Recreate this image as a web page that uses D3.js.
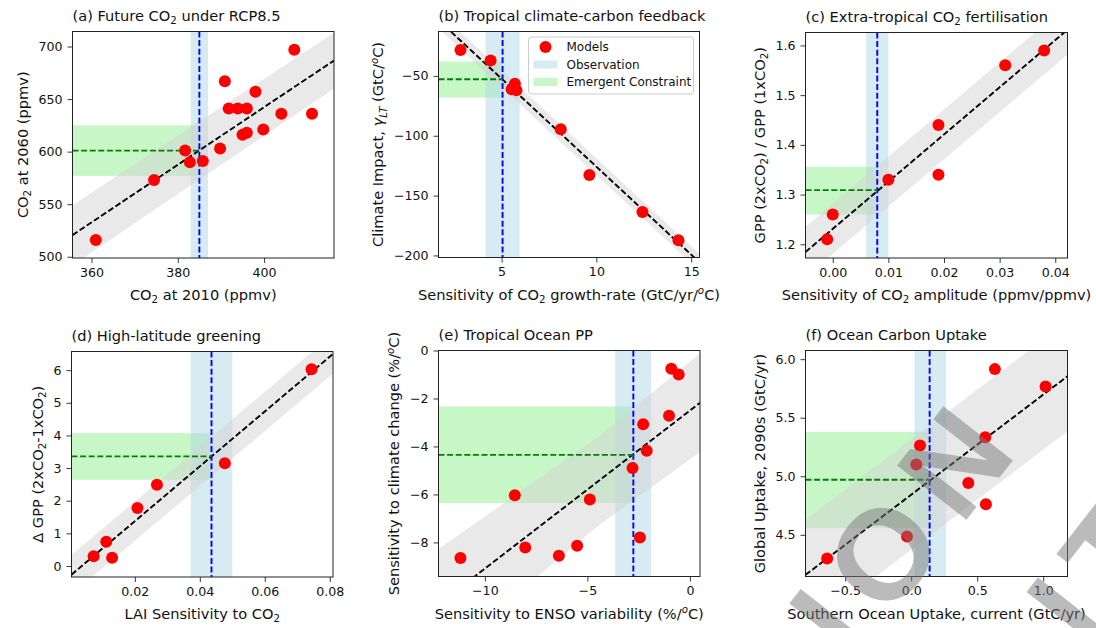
<!DOCTYPE html>
<html><head><meta charset="utf-8">
<script src="https://cdn.jsdelivr.net/npm/d3@7"></script>
<style>body{margin:0;background:#fff}svg{display:block}</style>
</head><body><svg id="c" width="1096" height="628"></svg>
<script>
// ---------- DATA ----------
// (a) Future CO2 under RCP8.5
const aX = [361.0, 374.5, 381.7, 382.8, 385.8, 389.8, 390.9, 391.8, 393.9, 396.0, 395.0, 396.0, 398.0, 399.8, 404.0, 407.0, 411.1];
const aY = [516, 573, 601, 590, 591, 603, 667, 641, 641, 641, 616, 618, 657, 621, 636, 697, 636];
const aFitX = [355.6, 416.2], aFitY = [520.6, 686.7];
const aBandX = [355.6, 416.2], aBandLo = [492, 660], aBandHi = [549, 713];
const aObs = [385, 383, 387], aCon = [601, 577, 625];
const aXTicks = [360, 380, 400], aXTickLabels = ["360", "380", "400"];
const aYTicks = [500, 550, 600, 650, 700], aYTickLabels = ["500", "550", "600", "650", "700"];

// (b) Tropical climate-carbon feedback
const bX = [2.83, 4.42, 5.70, 5.53, 5.78, 8.12, 9.63, 12.43, 14.33];
const bY = [-28.3, -37.2, -56.5, -61.2, -62.0, -94.6, -132.8, -163.7, -187.2];
const bFitX = [1.67, 15.44], bFitY = [-3.4, -205.8];
const bBandX = [1.67, 15.44], bBandLo = [-10.4, -212.8], bBandHi = [3.6, -198.8];
const bObs = [5.05, 4.15, 5.95], bCon = [-52.8, -68.1, -38.0];
const bXTicks = [5, 10, 15], bXTickLabels = ["5", "10", "15"];
const bYTicks = [-200, -150, -100, -50], bYTickLabels = ["\u2212200", "\u2212150", "\u2212100", "\u221250"];

// (c) Extra-tropical CO2 fertilisation
const cX = [-0.001, 0.0, 0.010, 0.019, 0.019, 0.031, 0.038];
const cY = [1.21, 1.26, 1.33, 1.34, 1.44, 1.56, 1.59];
const cFitX = [-0.0049, 0.0422], cFitY = [1.1846, 1.6316];
const cBandX = [-0.0049, 0.0422], cBandLo = [1.1346, 1.5816], cBandHi = [1.2346, 1.6816];
const cObs = [0.008, 0.006, 0.010], cCon = [1.309, 1.260, 1.356];
const cXTicks = [0, 0.01, 0.02, 0.03, 0.04], cXTickLabels = ["0.00", "0.01", "0.02", "0.03", "0.04"];
const cYTicks = [1.2, 1.3, 1.4, 1.5, 1.6], cYTickLabels = ["1.2", "1.3", "1.4", "1.5", "1.6"];

// (d) High-latitude greening
const dX = [0.0073, 0.0112, 0.0130, 0.0208, 0.0268, 0.0477, 0.0744];
const dY = [0.30, 0.74, 0.25, 1.78, 2.49, 3.15, 6.03];
const dFitX = [0.0005, 0.081], dFitY = [-0.265, 6.497];
const dBandX = [0.0005, 0.081], dBandLo = [-0.865, 5.897], dBandHi = [0.335, 7.097];
const dObs = [0.0436, 0.0372, 0.0500], dCon = [3.357, 2.64, 4.07];
const dXTicks = [0.02, 0.04, 0.06, 0.08], dXTickLabels = ["0.02", "0.04", "0.06", "0.08"];
const dYTicks = [0, 1, 2, 3, 4, 5, 6], dYTickLabels = ["0", "1", "2", "3", "4", "5", "6"];

// (e) Tropical Ocean PP
const eX = [-11.19, -8.54, -8.03, -6.39, -5.50, -4.88, -2.80, -2.44, -2.28, -2.11, -1.02, -0.91, -0.55];
const eY = [-8.65, -6.03, -8.21, -8.56, -8.14, -6.21, -4.90, -7.79, -3.07, -4.18, -2.72, -0.76, -1.00];
const eFitX = [-12.26, 0.49], eFitY = [-10.58, -2.18];
const eBandX = [-12.26, -4.5, 0.49], eBandLo = [-12.88, -7.32, -4.23], eBandHi = [-8.28, -3.62, -0.13];
const eObs = [-2.76, -3.64, -1.89], eCon = [-4.35, -6.36, -2.33];
const eXTicks = [-10, -5, 0], eXTickLabels = ["\u221210", "\u22125", "0"];
const eYTicks = [0, -2, -4, -6, -8], eYTickLabels = ["0", "\u22122", "\u22124", "\u22126", "\u22128"];

// (f) Ocean Carbon Uptake
const fX = [-0.636, -0.031, 0.039, 0.067, 0.433, 0.566, 0.561, 0.634, 1.018];
const fY = [4.298, 4.486, 5.10, 5.262, 4.943, 4.761, 5.333, 5.915, 5.767];
const fFitX = [-0.80, 1.184], fFitY = [4.158, 5.854];
const fBandX = [-0.80, 1.184], fBandLo = [3.688, 5.384], fBandHi = [4.628, 6.324];
const fObs = [0.14, 0.025, 0.265], fCon = [4.97, 4.557, 5.379];
const fXTicks = [-0.5, 0, 0.5, 1.0], fXTickLabels = ["\u22120.5", "0.0", "0.5", "1.0"];
const fYTicks = [4.5, 5.0, 5.5, 6.0], fYTickLabels = ["4.5", "5.0", "5.5", "6.0"];

const legendLabels = ["Models", "Observation", "Emergent Constraint"];

// ---------- PANELS ----------
const panels = [
  {id:"a", x:aX, y:aY, fitX:aFitX, fitY:aFitY, bandX:aBandX, bandLo:aBandLo, bandHi:aBandHi, obs:aObs, con:aCon,
   xDom:[355.6, 416.2], yDom:[498.8, 714.3], xT:aXTicks, xTL:aXTickLabels, yT:aYTicks, yTL:aYTickLabels,
   title:[{t:"(a) Future CO"},{t:"2",sub:1},{t:" under RCP8.5"}],
   xl:[{t:"CO"},{t:"2",sub:1},{t:" at 2010 (ppmv)"}],
   yl:[{t:"CO"},{t:"2",sub:1},{t:" at 2060 (ppmv)"}]},
  {id:"b", x:bX, y:bY, fitX:bFitX, fitY:bFitY, bandX:bBandX, bandLo:bBandLo, bandHi:bBandHi, obs:bObs, con:bCon,
   xDom:[1.67, 15.44], yDom:[-201.7, -12.9], xT:bXTicks, xTL:bXTickLabels, yT:bYTicks, yTL:bYTickLabels,
   title:[{t:"(b) Tropical climate-carbon feedback"}],
   xl:[{t:"Sensitivity of CO"},{t:"2",sub:1},{t:" growth-rate (GtC/yr/"},{t:"o",sup:1,it:1},{t:"C)"}],
   yl:[{t:"Climate Impact, "},{t:"\u03b3",it:1},{t:"LT",sub:1,it:1},{t:" (GtC/"},{t:"o",sup:1,it:1},{t:"C)"}], legend:true},
  {id:"c", x:cX, y:cY, fitX:cFitX, fitY:cFitY, bandX:cBandX, bandLo:cBandLo, bandHi:cBandHi, obs:cObs, con:cCon,
   xDom:[-0.0049, 0.0422], yDom:[1.1725, 1.626], xT:cXTicks, xTL:cXTickLabels, yT:cYTicks, yTL:cYTickLabels,
   title:[{t:"(c) Extra-tropical CO"},{t:"2",sub:1},{t:" fertilisation"}],
   xl:[{t:"Sensitivity of CO"},{t:"2",sub:1},{t:" amplitude (ppmv/ppmv)"}],
   yl:[{t:"GPP (2xCO"},{t:"2",sub:1},{t:") / GPP (1xCO"},{t:"2",sub:1},{t:")"}]},
  {id:"d", x:dX, y:dY, fitX:dFitX, fitY:dFitY, bandX:dBandX, bandLo:dBandLo, bandHi:dBandHi, obs:dObs, con:dCon,
   xDom:[0.0005, 0.081], yDom:[-0.337, 6.571], xT:dXTicks, xTL:dXTickLabels, yT:dYTicks, yTL:dYTickLabels,
   title:[{t:"(d) High-latitude greening"}],
   xl:[{t:"LAI Sensitivity to CO"},{t:"2",sub:1}],
   yl:[{t:"\u0394 GPP (2xCO"},{t:"2",sub:1},{t:"-1xCO"},{t:"2",sub:1},{t:")"}]},
  {id:"e", x:eX, y:eY, fitX:eFitX, fitY:eFitY, bandX:eBandX, bandLo:eBandLo, bandHi:eBandHi, obs:eObs, con:eCon,
   xDom:[-12.26, 0.49], yDom:[-9.42, 0], xT:eXTicks, xTL:eXTickLabels, yT:eYTicks, yTL:eYTickLabels,
   title:[{t:"(e) Tropical Ocean PP"}],
   xl:[{t:"Sensitivity to ENSO variability (%/"},{t:"o",sup:1,it:1},{t:"C)"}],
   yl:[{t:"Sensitivity to climate change (%/"},{t:"o",sup:1,it:1},{t:"C)"}]},
  {id:"f", x:fX, y:fY, fitX:fFitX, fitY:fFitY, bandX:fBandX, bandLo:fBandLo, bandHi:fBandHi, obs:fObs, con:fCon,
   xDom:[-0.80, 1.184], yDom:[4.144, 6.074], xT:fXTicks, xTL:fXTickLabels, yT:fYTicks, yTL:fYTickLabels,
   title:[{t:"(f) Ocean Carbon Uptake"}],
   xl:[{t:"Southern Ocean Uptake, current (GtC/yr)"}],
   yl:[{t:"Global Uptake, 2090s (GtC/yr)"}]}
];

const LAYOUT = {
  a:{left:72.5, top:31.5, w:261.5, h:226.5},
  b:{left:438.5, top:31.5, w:261, h:226},
  c:{left:805.5, top:32.5, w:262, h:225.5},
  d:{left:71.5, top:351.5, w:261.5, h:225.5},
  e:{left:438.5, top:350.5, w:261.5, h:226},
  f:{left:805.5, top:350.5, w:262, h:226}
};

const FONT = "DejaVu Sans";
const TICK_FS = 12.6, LABEL_FS = 14.6, TITLE_FS = 14.6, LEG_FS = 12;
const DASH = "6,2.6";
const svg = d3.select("#c");
svg.append("rect").attr("width",1096).attr("height",628).attr("fill","#fff");

function rich(sel, segs, fs) {
  let shift = 0;
  segs.forEach(s => {
    const ts = sel.append("tspan").text(s.t);
    let target = 0, size = fs;
    if (s.sub) { target = 0.22*fs; size = 0.7*fs; }
    if (s.sup) { target = -0.36*fs; size = 0.7*fs; }
    ts.attr("font-size", size);
    if (target !== shift) { ts.attr("dy", target - shift); shift = target; }
    if (s.it) ts.attr("font-style", "italic");
  });
}

function drawPanel(P) {
  const L = LAYOUT[P.id];
  const x = d3.scaleLinear().domain(P.xDom).range([L.left, L.left + L.w]);
  const y = d3.scaleLinear().domain(P.yDom).range([L.top + L.h, L.top]);
  const clipId = "clip-" + P.id;
  svg.append("clipPath").attr("id", clipId).append("rect")
    .attr("x", L.left).attr("y", L.top).attr("width", L.w).attr("height", L.h);
  const g = svg.append("g").attr("clip-path", `url(#${clipId})`);

  // emergent constraint band (green)
  g.append("rect").attr("x", x(P.xDom[0])).attr("width", x(P.obs[0]) - x(P.xDom[0]))
    .attr("y", y(P.con[2])).attr("height", y(P.con[1]) - y(P.con[2]))
    .attr("fill", "#90ee90").attr("fill-opacity", 0.5);
  // observation band (blue)
  g.append("rect").attr("x", x(P.obs[1])).attr("width", x(P.obs[2]) - x(P.obs[1]))
    .attr("y", L.top).attr("height", L.h).attr("fill", "#add8e6").attr("fill-opacity", 0.5);
  // regression uncertainty band (grey)
  const area = d3.area().x(d => x(d[0])).y0(d => y(d[1])).y1(d => y(d[2]));
  g.append("path").datum(d3.zip(P.bandX, P.bandLo, P.bandHi)).attr("d", area)
    .attr("fill", "#d3d3d3").attr("fill-opacity", 0.5);
  // regression line
  const line = d3.line().x(d => x(d[0])).y(d => y(d[1]));
  g.append("path").datum(d3.zip(P.fitX, P.fitY)).attr("d", line)
    .attr("fill", "none").attr("stroke", "#000").attr("stroke-width", 1.9).attr("stroke-dasharray", DASH);
  // observation line
  g.append("line").attr("x1", x(P.obs[0])).attr("x2", x(P.obs[0])).attr("y1", L.top).attr("y2", L.top + L.h)
    .attr("stroke", "#0000ff").attr("stroke-width", 1.9).attr("stroke-dasharray", DASH);
  // constraint line
  g.append("line").attr("x1", x(P.xDom[0])).attr("x2", x(P.obs[0])).attr("y1", y(P.con[0])).attr("y2", y(P.con[0]))
    .attr("stroke", "#008000").attr("stroke-width", 1.9).attr("stroke-dasharray", DASH);
  // models
  g.selectAll("circle.m").data(d3.zip(P.x, P.y)).join("circle").attr("class", "m")
    .attr("cx", d => x(d[0])).attr("cy", d => y(d[1])).attr("r", 6).attr("fill", "#ff0000");

  // spines
  svg.append("rect").attr("x", L.left).attr("y", L.top).attr("width", L.w).attr("height", L.h)
    .attr("fill", "none").attr("stroke", "#222").attr("stroke-width", 1);

  // axes
  const xa = d3.axisBottom(x).tickValues(P.xT).tickFormat((d, i) => P.xTL[i]).tickSize(5).tickPadding(5);
  const xg = svg.append("g").attr("transform", `translate(0,${L.top + L.h})`).call(xa);
  const ya = d3.axisLeft(y).tickValues(P.yT).tickFormat((d, i) => P.yTL[i]).tickSize(5).tickPadding(5);
  const yg = svg.append("g").attr("transform", `translate(${L.left},0)`).call(ya);
  [xg, yg].forEach(ag => {
    ag.select(".domain").remove();
    ag.selectAll("line").attr("stroke", "#222").attr("stroke-width", 0.9);
    ag.selectAll("text").attr("font-family", FONT).attr("font-size", TICK_FS).attr("fill", "#111");
  });

  // title
  const tt = svg.append("text").attr("x", L.left).attr("y", L.top - 11)
    .attr("font-family", FONT).attr("font-size", TITLE_FS).attr("fill", "#111");
  rich(tt, P.title, TITLE_FS);
  // x label
  const xt = svg.append("text").attr("x", L.left + L.w / 2).attr("y", L.top + L.h + 42)
    .attr("text-anchor", "middle").attr("font-family", FONT).attr("font-size", LABEL_FS).attr("fill", "#111");
  rich(xt, P.xl, LABEL_FS);
  // y label
  const bb = yg.node().getBBox();
  const lx = L.left + bb.x - 10.5;
  const yt = svg.append("text").attr("transform", `translate(${lx},${L.top + L.h / 2}) rotate(-90)`)
    .attr("text-anchor", "middle").attr("font-family", FONT).attr("font-size", LABEL_FS).attr("fill", "#111");
  rich(yt, P.yl, LABEL_FS);

  if (P.legend) {
    const bx = L.left + L.w - 171, by = L.top + 5.5;
    const lg = svg.append("g");
    lg.append("rect").attr("x", bx).attr("y", by).attr("width", 165).attr("height", 57).attr("rx", 3)
      .attr("fill", "#fff").attr("fill-opacity", 0.8).attr("stroke", "#cccccc");
    legendLabels.forEach((lab, i) => {
      const cy = by + 10 + i * 17.5;
      if (i === 0) lg.append("circle").attr("cx", bx + 17).attr("cy", cy).attr("r", 6).attr("fill", "#ff0000");
      else lg.append("rect").attr("x", bx + 5).attr("y", cy - 4).attr("width", 24).attr("height", 8)
        .attr("fill", i === 1 ? "#add8e6" : "#90ee90").attr("fill-opacity", 0.5);
      lg.append("text").attr("x", bx + 38).attr("y", cy + 4.3).attr("font-family", FONT)
        .attr("font-size", LEG_FS).attr("fill", "#111").text(lab);
    });
  }
}

panels.forEach(drawPanel);

// ---------- watermark ----------
const wmLines = ["ACCEPTED VERSION", "SUBJECT TO FINAL EDITING"];
const wm = svg.append("g").attr("opacity", 0.5);
const wg = wm.append("g");
const WFS = 128;
const t1 = wg.append("text").attr("x", 0).attr("y", 0).attr("text-anchor", "middle")
  .attr("font-family", "Liberation Sans").attr("font-weight", "bold").attr("font-size", WFS)
  .attr("letter-spacing", 20).attr("fill", "#7a7a7a").text(wmLines[0]);
wg.append("text").attr("x", 0).attr("y", 180).attr("text-anchor", "middle")
  .attr("font-family", "Liberation Sans").attr("font-weight", "bold").attr("font-size", WFS)
  .attr("letter-spacing", 20).attr("fill", "#7a7a7a").text(wmLines[1]);
const sp = t1.node().getStartPositionOfChar(14);
const ox = sp.x + 0.389 * WFS, oy = sp.y - 0.36 * WFS;
wg.attr("transform", `translate(882,553) rotate(-52) translate(${-ox},${-oy})`);
</script></body></html>
